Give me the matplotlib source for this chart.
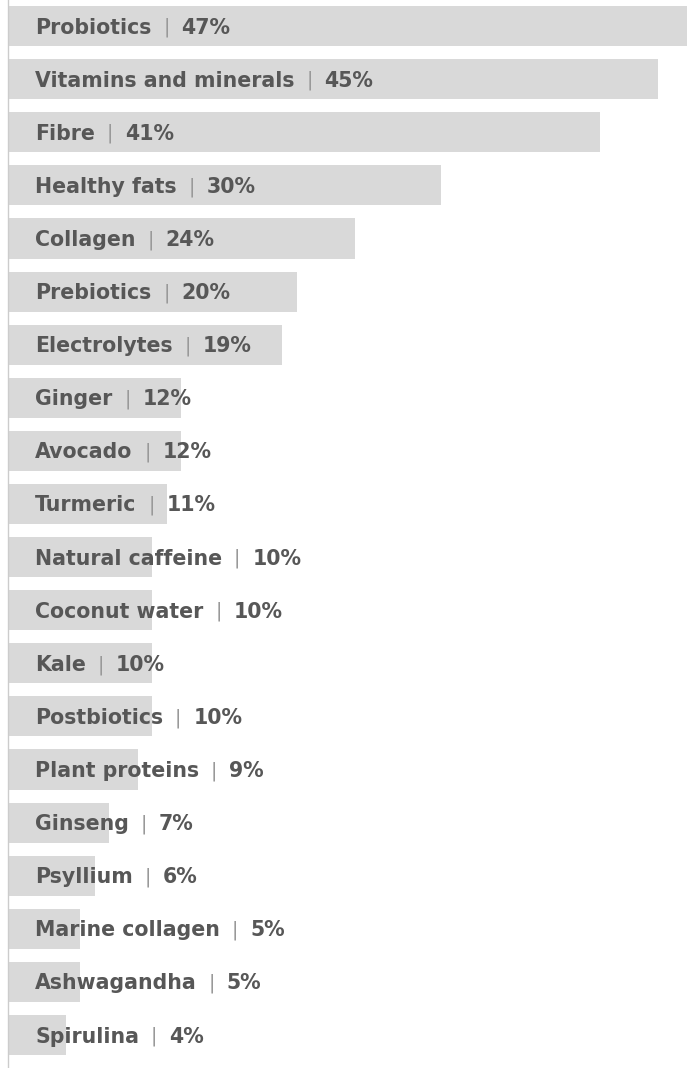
import matplotlib.pyplot as plt

# ingredient popularity
ingredients = ['Probiotics', 'Vitamins and minerals', 'Fibre', 'Healthy fats',
               'Collagen', 'Prebiotics', 'Electrolytes', 'Ginger', 'Avocado',
               'Turmeric', 'Natural caffeine', 'Coconut water', 'Kale',
               'Postbiotics', 'Plant proteins', 'Ginseng', 'Psyllium',
               'Marine collagen', 'Ashwagandha', 'Spirulina']
shares = [47, 45, 41, 30, 24, 20, 19, 12, 12, 11, 10, 10, 10, 10, 9, 7, 6, 5, 5, 4]

plt.rcParams['font.family'] = ['DejaVu Sans']

fig = plt.figure(figsize=(6.93, 10.68), dpi=100)
ax = fig.add_axes([8/693, 0, 685/693, 1])

ypos = list(range(len(ingredients)))
ax.barh(ypos, shares, height=0.755, color='#d9d9d9', left=0)

ax.set_xlim(0, 685/14.44)
ax.set_ylim(len(ingredients) - 0.38, -0.49)

txt_col = '#575757'
fs = 14.8
for i, (name, val) in enumerate(zip(ingredients, shares)):
    t1 = ax.annotate(name, xy=(0, i), xytext=(19.5, -5.4), textcoords='offset points',
                     va='baseline', ha='left', fontsize=fs, fontweight='bold',
                     color=txt_col)
    t2 = ax.annotate('|', xy=(1, 0.5), xycoords=t1, xytext=(8.5, 0),
                     textcoords='offset points', va='center', ha='left',
                     fontsize=fs - 1, fontweight='normal', color='#999999')
    ax.annotate(f'{val}%', xy=(1, 0.5), xycoords=t2, xytext=(8.5, 0),
                textcoords='offset points', va='center', ha='left',
                fontsize=fs, fontweight='bold', color=txt_col)

for s in ['top', 'right', 'bottom']:
    ax.spines[s].set_visible(False)
ax.spines['left'].set_color('#cccccc')
ax.spines['left'].set_linewidth(1)
ax.set_xticks([])
ax.set_yticks([])

fig.savefig('out.png', dpi=100)
